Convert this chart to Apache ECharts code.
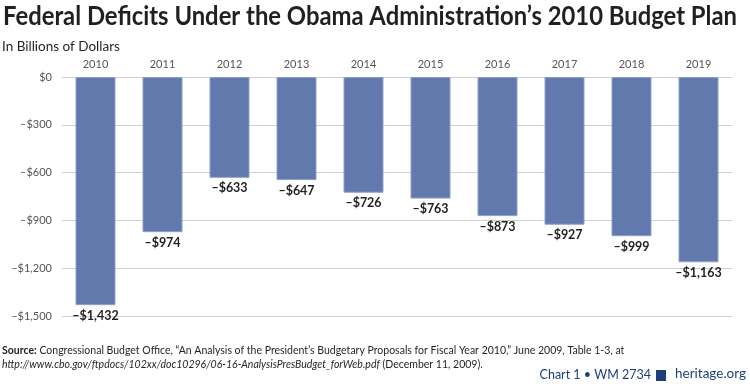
<!DOCTYPE html>
<html><head><meta charset="utf-8">
<script src="https://cdn.jsdelivr.net/npm/echarts@6/dist/echarts.min.js"></script>
<style>html,body{margin:0;padding:0;background:#fff}#c{width:750px;height:384px}</style>
</head><body><div id="c"></div>
<script>
const years = ['2010','2011','2012','2013','2014','2015','2016','2017','2018','2019'];
const deficits = [-1432,-974,-633,-647,-726,-763,-873,-927,-999,-1163];
const yTicks = {min:-1500, max:0, interval:300};
const titleText = 'Federal Deficits Under the Obama Administration\u2019s 2010 Budget Plan';

function fmt(v){
  if (v === 0) return '$0';
  const a = Math.abs(v).toString().replace(/\B(?=(\d{3})+(?!\d))/g, ',');
  return (v<0?'\u2013':'') + '$' + a;
}
const titleFont = 'bold 27px Lato';
const cv = document.createElement('canvas').getContext('2d');
cv.font = titleFont;
const tw = cv.measureText(titleText).width;
const sx = 734 / tw;

const chart = echarts.init(document.getElementById('c'), null, {renderer:'canvas'});
chart.setOption({
  animation:false,
  grid:{left:62, right:18, top:77, bottom:68, containLabel:false},
  xAxis:{type:'category', data:years, position:'top',
    axisLine:{show:false}, axisTick:{show:false},
    axisLabel:{color:'#555', fontFamily:'Lato', fontSize:11, margin:7}},
  yAxis:{type:'value', min:yTicks.min, max:yTicks.max, interval:yTicks.interval,
    axisLine:{show:false}, axisTick:{show:false},
    splitLine:{lineStyle:{color:'#cfcfcf', width:1}},
    axisLabel:{color:'#555', fontFamily:'Lato', fontSize:11, margin:10, formatter:fmt}},
  series:[{type:'bar', data:deficits, barWidth:40,
    itemStyle:{color:'#6279ae', borderColor:'#8da0c8', borderWidth:1},
    label:{show:true, position:'bottom', distance:4, formatter:p=>fmt(p.value),
      color:'#231f20', fontFamily:'Lato', fontSize:12.5, fontWeight:'bold'}}],
  graphic:[
    {type:'text', x:3, y:3, scaleX:sx, style:{text:titleText, fontFamily:'Lato', fontWeight:'bold', fontSize:27, fill:'#231f20'}},
    {type:'text', left:2, top:40, style:{text:'In Billions of Dollars', fontFamily:'Lato', fontSize:13.5, fill:'#231f20'}},
    {type:'text', left:2, top:345, style:{rich:{b:{fontWeight:'bold',fontSize:10.5,fontFamily:'Lato',fill:'#231f20'}},
      text:'{b|Source:} Congressional Budget Office, \u201cAn Analysis of the President\u2019s Budgetary Proposals for Fiscal Year 2010,\u201d June 2009, Table 1-3, at',
      fontFamily:'Lato', fontSize:10.5, fill:'#231f20'}},
    {type:'text', left:2, top:359, style:{rich:{i:{fontStyle:'italic',fontSize:10.5,fontFamily:'Lato',fill:'#231f20'}},
      text:'{i|http://www.cbo.gov/ftpdocs/102xx/doc10296/06-16-AnalysisPresBudget_forWeb.pdf} (December 11, 2009).',
      fontFamily:'Lato', fontSize:10.5, fill:'#231f20'}},
    {type:'text', right:99, top:368, style:{text:'Chart 1 \u2022 WM 2734', fontFamily:'Lato', fontSize:12.5, fill:'#1f3f7a'}},
    {type:'rect', left:656, top:370, shape:{width:10, height:11}, style:{fill:'#1f3f7a'}},
    {type:'text', right:4, top:367, style:{text:'heritage.org', fontFamily:'Lato', fontSize:13.5, fill:'#1f3f7a'}}
  ]
});
</script></body></html>
